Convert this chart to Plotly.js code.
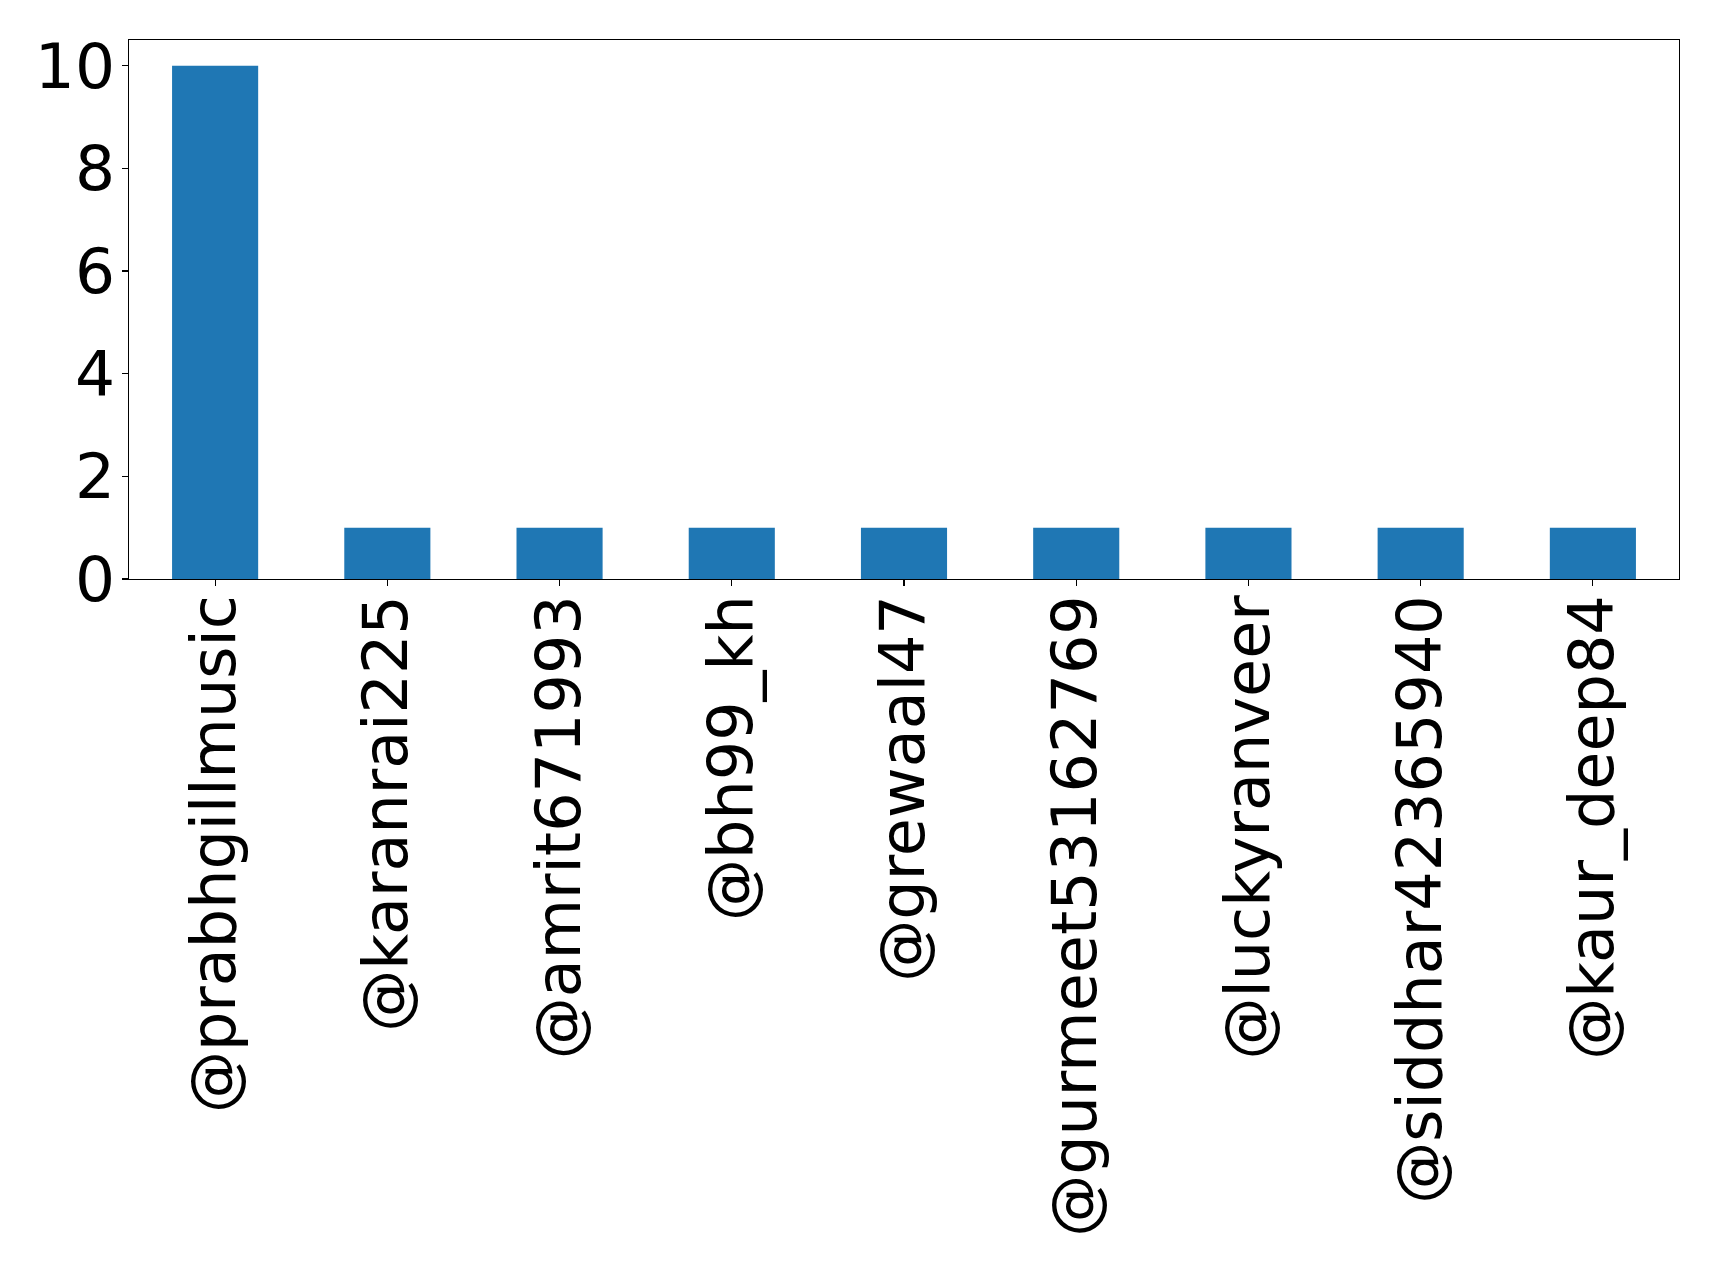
<!DOCTYPE html>
<html>
<head>
<meta charset="utf-8">
<script src="https://cdn.plot.ly/plotly-3.0.1.min.js"></script>
<style>html,body{margin:0;padding:0;background:#fff;}#chart{width:1719px;height:1275px;}</style>
</head>
<body>
<div id="chart"></div>
<script>
const categories = ["@prabhgillmusic","@karanrai225","@amrit671993","@bh99_kh","@grewaal47","@gurmeet53162769","@luckyranveer","@siddhar42365940","@kaur_deep84"];
const counts = [10,1,1,1,1,1,1,1,1];
const yTicks = [0,2,4,6,8,10];

const trace = {
  type: 'bar',
  x: categories.map((c,i)=>i),
  y: counts,
  width: 0.5,
  marker: {color: '#1f77b4', line: {width: 0}},
  hoverinfo: 'skip'
};
const layout = {
  width: 1719, height: 1275,
  margin: {l: 129, r: 40, t: 40, b: 696, pad: 0},
  paper_bgcolor: '#fff', plot_bgcolor: '#fff',
  showlegend: false,
  font: {family: 'DejaVu Sans', color: '#000', size: 62},
  xaxis: {
    range: [-0.5, 8.5],
    tickmode: 'array', tickvals: categories.map((c,i)=>i), ticktext: categories,
    tickangle: -90,
    ticks: 'outside', ticklen: 6, tickwidth: 1.2, tickcolor: '#000',
    ticklabelstandoff: -16,
    showgrid: false, zeroline: false,
    showline: true, linecolor: '#000', linewidth: 1.4, mirror: true,
    tickfont: {family: 'DejaVu Sans', size: 62, color: '#000'}
  },
  yaxis: {
    range: [0, 10.5],
    tickmode: 'array', tickvals: yTicks, ticktext: yTicks.map(String),
    ticks: 'outside', ticklen: 6, tickwidth: 1.2, tickcolor: '#000',
    ticklabelstandoff: -6,
    showgrid: false, zeroline: false,
    showline: true, linecolor: '#000', linewidth: 1.4, mirror: true,
    tickfont: {family: 'DejaVu Sans', size: 63, color: '#000'}
  },
  bargap: 0.5
};
Plotly.newPlot('chart', [trace], layout, {staticPlot: true, displayModeBar: false});
</script>
</body>
</html>
